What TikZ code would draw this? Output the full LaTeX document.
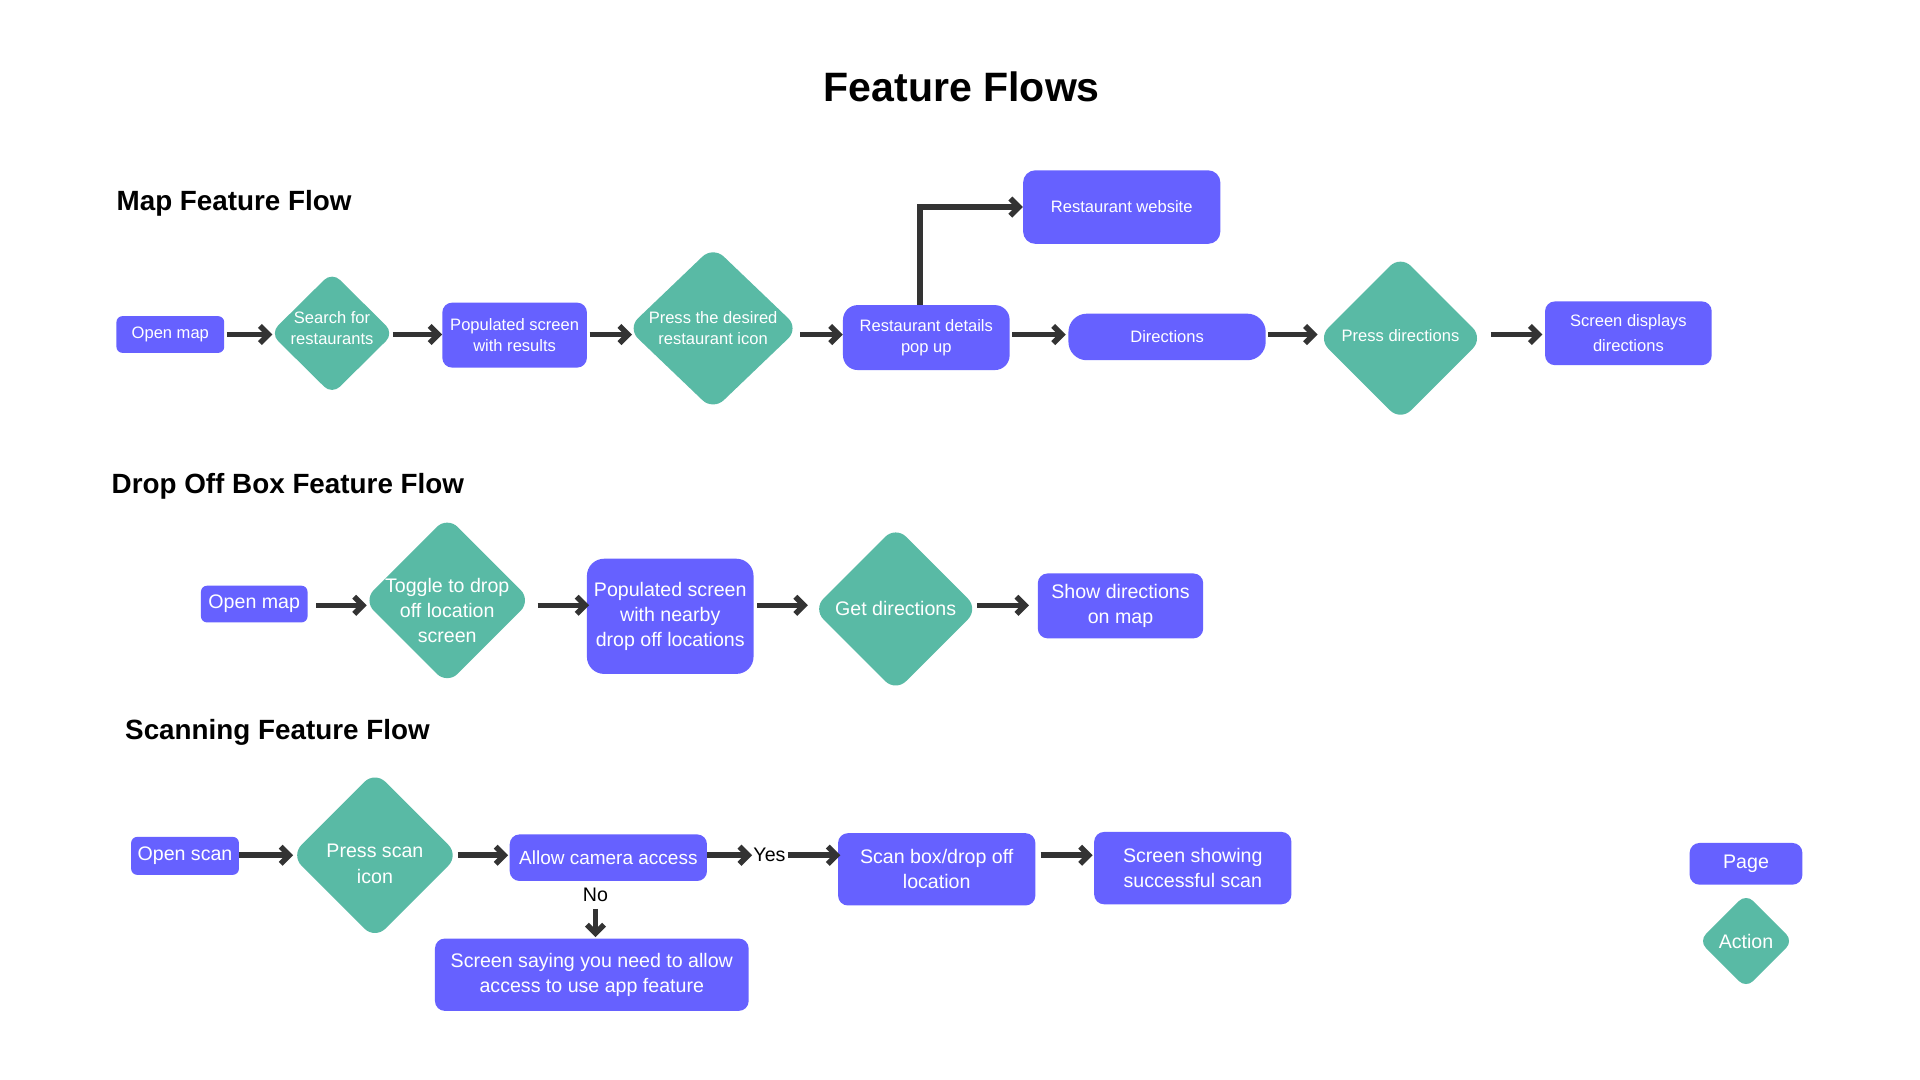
\documentclass[tikz,border=0pt]{standalone}
\usepackage{fontspec}
\setmainfont{Liberation Sans}
\usetikzlibrary{shapes.geometric,arrows.meta,calc}
\definecolor{pagec}{HTML}{6661FF}
\definecolor{actc}{HTML}{59BAA5}
\definecolor{arrc}{HTML}{333333}
\begin{document}
\begin{tikzpicture}[x=1pt,y=-1pt,
 pagebox/.style={rectangle, fill=pagec, text=white, rounded corners=#1, inner sep=0pt, align=center},
 pagebox/.default=8pt,
 actbox/.style={diamond, fill=actc, inner sep=0pt, rounded corners=#1},
 actbox/.default=10pt,
 acttxt/.style={text=white, align=center, inner sep=0pt},
 fsm/.style={font=\fontsize{13.5}{17}\selectfont},
 flg/.style={font=\fontsize{16}{20.5}\selectfont},
 heading/.style={font=\bfseries\fontsize{22.7}{28}\selectfont, anchor=west, inner sep=0pt},
 arr/.style={draw=arrc, line width=4.5pt, -{Straight Barb[length=7pt,width=14pt]}, shorten <=2pt},
 lbl/.style={font=\fontsize{16}{20}\selectfont, text=black, inner sep=0pt}
]
\fill[white] (0,0) rectangle (1567,881.4);
\useasboundingbox (0,0) rectangle (1567,881.4);

\coordinate (r1) at (0,273);
\coordinate (r2) at (0,494);
\coordinate (r3) at (0,698);

% titles
\node[font=\bfseries\fontsize{33.5}{40}\selectfont, inner sep=0pt] (title) at (785,71) {Feature Flows};
\node[heading] (h1) at (95,166) {Map Feature Flow};
\node[heading] (h2) at (91,397) {Drop Off Box Feature Flow};
\node[heading] (h3) at (102,598) {Scanning Feature Flow};

% row 1
\node[pagebox=5pt, fsm, minimum width=88pt, minimum height=30pt] (om1) at (139,273) {Open map};
\node[actbox=9pt, minimum width=101pt, minimum height=100pt, label={[acttxt,fsm,yshift=4pt]center:Search for\\restaurants}] (sr1) at (271,272) {};
\node[pagebox=8pt, fsm, minimum width=118pt, minimum height=53pt] (pop1) at (420,273.5) {Populated screen\\with results};
\node[actbox=12pt, minimum width=140pt, minimum height=134pt, label={[acttxt,fsm]center:Press the desired\\restaurant icon}] (pd1) at (582,268) {};
\node[pagebox=12pt, fsm, minimum width=136pt, minimum height=53pt] (det1) at (756,275.5) {Restaurant details\\pop up};
\node[pagebox=10pt, fsm, minimum width=161pt, minimum height=60pt] (web1) at (915.5,169) {Restaurant website};
\node[pagebox=15pt, fsm, minimum width=161pt, minimum height=38pt] (dir1) at (952.5,275) {Directions};
\node[actbox=12pt, minimum width=135pt, minimum height=135pt, label={[acttxt,fsm,yshift=2pt]center:Press directions}] (pdir1) at (1143,276) {};
\node[pagebox=8pt, font=\fontsize{13.5}{20.5}\selectfont, minimum width=136pt, minimum height=52pt] (sd1) at (1329,272) {Screen displays\\directions};

\draw[arr, shorten >=-2pt] (om1.east |- r1) -- (sr1.west |- r1);
\draw[arr, shorten <=-1pt] (sr1.east |- r1) -- (pop1.west |- r1);
\draw[arr, shorten >=-4pt] (pop1.east |- r1) -- (pd1.west |- r1);
\draw[arr, shorten <=1pt] (pd1.east |- r1) -- (det1.west |- r1);
\draw[arr, shorten >=2pt] (det1.east |- r1) -- (dir1.west |- r1);
\draw[arr, shorten >=0pt] (dir1.east |- r1) -- (pdir1.west |- r1);
\draw[arr, shorten <=6pt, shorten >=2pt] (pdir1.east |- r1) -- (sd1.west |- r1);
\draw[arr, shorten <=0pt] ([xshift=-5pt]det1.north) |- (web1.west);

% row 2
\node[pagebox=5pt, flg, minimum width=87pt, minimum height=30pt] (om2) at (207.5,493) {Open map};
\node[actbox=12pt, minimum width=137pt, minimum height=137pt, label={[acttxt,flg,yshift=-8pt]center:Toggle to drop\\off location\\screen}] (tg2) at (365,490) {};
\node[pagebox=14pt, flg, minimum width=136pt, minimum height=94pt] (pn2) at (547,503) {Populated screen\\with nearby\\drop off locations};
\node[actbox=12pt, minimum width=135pt, minimum height=135pt, label={[acttxt,flg]center:Get directions}] (gd2) at (731,497) {};
\node[pagebox=8pt, flg, minimum width=135pt, minimum height=53pt] (sm2) at (914.5,494.5) {Show directions\\on map};

\draw[arr, shorten <=7pt, shorten >=-3pt] (om2.east |- r2) -- (tg2.west |- r2);
\draw[arr, shorten <=5pt, shorten >=-2pt] (tg2.east |- r2) -- (pn2.west |- r2);
\draw[arr, shorten <=3pt, shorten >=4pt] (pn2.east |- r2) -- (gd2.west |- r2);
\draw[arr, shorten <=-1pt, shorten >=7pt] (gd2.east |- r2) -- (sm2.west |- r2);

% row 3
\node[pagebox=5pt, flg, minimum width=88pt, minimum height=31pt] (os3) at (151,698.5) {Open scan};
\node[actbox=12pt, minimum width=137pt, minimum height=137pt, label={[acttxt,flg,yshift=-7pt]center:Press scan\\icon}] (ps3) at (306,698) {};
\node[pagebox=8pt, font=\fontsize{15.5}{20}\selectfont, minimum width=161pt, minimum height=38pt] (ac3) at (496.5,700) {Allow camera access};
\node[lbl] (yes) at (628,698) {Yes};
\node[pagebox=8pt, flg, minimum width=161pt, minimum height=59pt] (sb3) at (764.5,709.5) {Scan box/drop off\\location};
\node[pagebox=8pt, flg, minimum width=161pt, minimum height=59pt] (ss3) at (973.5,708.5) {Screen showing\\successful scan};
\node[lbl] (no) at (486,730) {No};
\node[pagebox=8pt, flg, minimum width=256pt, minimum height=59pt] (sn3) at (483,795.5) {Screen saying you need to allow\\access to use app feature};

\draw[arr, shorten <=0pt, shorten >=-2pt] (os3.east |- r3) -- (ps3.west |- r3);
\draw[arr, shorten <=-1pt, shorten >=1pt] (ps3.east |- r3) -- (ac3.west |- r3);
\draw[arr, shorten <=0pt, shorten >=1pt] (ac3.east |- r3) -- (yes.west |- r3);
\draw[arr, shorten <=1.5pt, shorten >=-2pt] (yes.east |- r3) -- (sb3.west |- r3);
\draw[arr, shorten <=4pt, shorten >=1pt] (sb3.east |- r3) -- (ss3.west |- r3);
\draw[arr, shorten <=6pt, shorten >=1pt] (no.south) -- (no.south |- sn3.north);

% legend
\node[pagebox=8pt, flg, minimum width=92pt, minimum height=34pt] (pg) at (1425,705) {Page};
\node[actbox=8pt, minimum width=77pt, minimum height=77pt, label={[acttxt,flg]center:Action}] (ac) at (1425,768) {};
\end{tikzpicture}
\end{document}
